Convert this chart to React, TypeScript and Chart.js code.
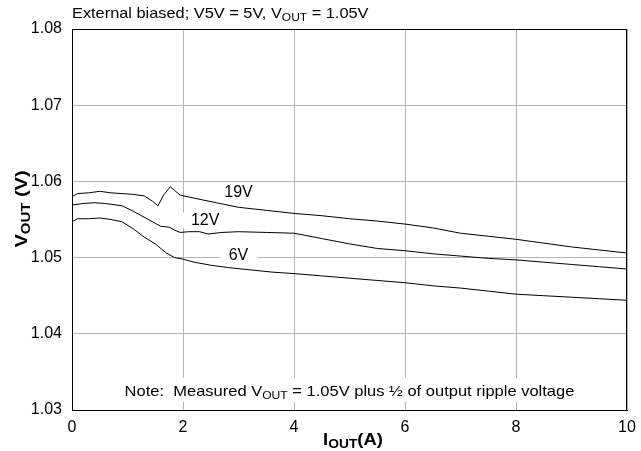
import React, { useEffect, useRef } from "react";
import { Chart, registerables } from "chart.js";

Chart.register(...registerables);

const xTicks = [0, 2, 4, 6, 8, 10];
const yTicks = [1.03, 1.04, 1.05, 1.06, 1.07, 1.08];

const x19 = [0, 0.1, 0.3, 0.5, 0.7, 0.9, 1.1, 1.3, 1.45, 1.55, 1.65, 1.77, 1.85, 1.95, 2.2, 2.6, 3.0, 3.5, 4.0, 4.5, 5.0, 5.5, 6.0, 6.5, 7.0, 7.5, 8.0, 8.5, 9.0, 9.5, 10];
const y19 = [1.0580, 1.0584, 1.0585, 1.0587, 1.0585, 1.0584, 1.0583, 1.0581, 1.0574, 1.0568, 1.0582, 1.0593, 1.0588, 1.0582, 1.0578, 1.0572, 1.0566, 1.0562, 1.0558, 1.0555, 1.0551, 1.0548, 1.0544, 1.0539, 1.0532, 1.0528, 1.0524, 1.0519, 1.0514, 1.0510, 1.0506];

const x12 = [0, 0.2, 0.4, 0.6, 0.9, 1.1, 1.3, 1.5, 1.6, 1.75, 1.85, 1.95, 2.1, 2.3, 2.45, 2.7, 3.0, 3.5, 4.0, 4.5, 5.0, 5.5, 6.0, 6.5, 7.0, 7.5, 8.0, 8.5, 9.0, 9.5, 10];
const y12 = [1.0569, 1.0571, 1.0572, 1.0571, 1.0568, 1.0561, 1.0553, 1.0545, 1.0541, 1.0540, 1.0536, 1.0533, 1.0534, 1.0534, 1.0531, 1.0533, 1.0534, 1.0533, 1.0532, 1.0525, 1.0518, 1.0512, 1.0509, 1.0505, 1.0502, 1.0499, 1.0497, 1.0494, 1.0491, 1.0488, 1.0485];

const x6 = [0, 0.1, 0.3, 0.5, 0.7, 0.9, 1.1, 1.3, 1.5, 1.7, 1.85, 2.0, 2.2, 2.5, 2.8, 3.2, 3.6, 4.0, 4.5, 5.0, 5.5, 6.0, 6.5, 7.0, 7.5, 8.0, 8.5, 9.0, 9.5, 10];
const y6 = [1.0547, 1.0551, 1.0551, 1.0552, 1.0550, 1.0547, 1.0538, 1.0527, 1.0518, 1.0506, 1.0500, 1.0498, 1.0494, 1.0490, 1.0487, 1.0484, 1.0481, 1.0479, 1.0476, 1.0473, 1.0470, 1.0467, 1.0463, 1.0460, 1.0456, 1.0452, 1.0450, 1.0448, 1.0446, 1.0444];

const seriesLabels = ["19V", "12V", "6V"];
const labelPos = [
  { x: 3.0, y: 1.0588 },
  { x: 2.4, y: 1.0551 },
  { x: 3.0, y: 1.0505 },
];

const FONT = "'Liberation Sans', Arial, Helvetica, sans-serif";

type Part = { t: string; sub?: boolean };

function fontFor(p: Part, size: number, sub: number, bold: boolean) {
  return `${bold ? "bold " : ""}${p.sub ? sub : size}px ${FONT}`;
}

function measureRich(ctx: CanvasRenderingContext2D, parts: Part[], size: number, sub: number, bold: boolean) {
  let w = 0;
  for (const p of parts) {
    ctx.font = fontFor(p, size, sub, bold);
    w += ctx.measureText(p.t).width;
  }
  return w;
}

function drawRich(
  ctx: CanvasRenderingContext2D,
  parts: Part[],
  x: number,
  y: number,
  size: number,
  sub: number,
  bold: boolean,
  align: "left" | "center",
  sx: number
) {
  const w = measureRich(ctx, parts, size, sub, bold) * sx;
  const x0 = align === "center" ? x - w / 2 : x;
  ctx.save();
  ctx.translate(x0, y);
  ctx.scale(sx, 1);
  ctx.textAlign = "left";
  ctx.textBaseline = "alphabetic";
  ctx.fillStyle = "#000";
  let cx = 0;
  for (const p of parts) {
    ctx.font = fontFor(p, size, sub, bold);
    ctx.fillText(p.t, cx, p.sub ? 3 : 0);
    cx += ctx.measureText(p.t).width;
  }
  ctx.restore();
  return w;
}

const noteParts: Part[] = [
  { t: "Note:  Measured V" },
  { t: "OUT", sub: true },
  { t: " = 1.05V plus \u00BD of output ripple voltage" },
];

const annotPlugin = {
  id: "annot",
  beforeDatasetsDraw(chart: any) {
    const ctx: CanvasRenderingContext2D = chart.ctx;
    const xs = chart.scales.x;
    const ys = chart.scales.y;
    const area = chart.chartArea;
    ctx.save();
    seriesLabels.forEach((lab, i) => {
      const px = xs.getPixelForValue(labelPos[i].x);
      const py = ys.getPixelForValue(labelPos[i].y);
      ctx.font = `16px ${FONT}`;
      const w = ctx.measureText(lab).width;
      ctx.fillStyle = "#fff";
      ctx.fillRect(px - w / 2 - 9, py - 6, w + 18, 15);
      ctx.fillStyle = "#000";
      ctx.textAlign = "center";
      ctx.textBaseline = "alphabetic";
      ctx.fillText(lab, px, py + 6);
    });
    const sx = 1.1;
    const nw = measureRich(ctx, noteParts, 15, 11, false) * sx;
    const ncx = (area.left + area.right) / 2;
    ctx.fillStyle = "#fff";
    ctx.fillRect(ncx - nw / 2 - 5, area.bottom - 32, nw + 10, 24);
    drawRich(ctx, noteParts, ncx, area.bottom - 14, 15, 11, false, "center", sx);
    ctx.restore();
  },
  afterDraw(chart: any) {
    const ctx: CanvasRenderingContext2D = chart.ctx;
    const area = chart.chartArea;
    ctx.save();
    ctx.strokeStyle = "#000";
    ctx.lineWidth = 1;
    ctx.strokeRect(area.left + 0.5, area.top + 0.5, area.right - area.left - 1, area.bottom - area.top);
    drawRich(
      ctx,
      [{ t: "External biased; V5V = 5V, V" }, { t: "OUT", sub: true }, { t: " = 1.05V" }],
      area.left,
      18,
      15,
      11,
      false,
      "left",
      1.09
    );
    drawRich(
      ctx,
      [{ t: "I" }, { t: "OUT", sub: true }, { t: "(A)" }],
      353,
      445,
      16,
      12,
      true,
      "center",
      1.15
    );
    ctx.save();
    ctx.translate(27, 209);
    ctx.rotate(-Math.PI / 2);
    drawRich(ctx, [{ t: "V" }, { t: "OUT", sub: true }, { t: " (V)" }], 0, 0, 16, 12, true, "center", 1.25);
    ctx.restore();
    ctx.restore();
  },
};

export default function App() {
  const ref = useRef<HTMLCanvasElement | null>(null);
  useEffect(() => {
    if (!ref.current) return;
    const mk = (xs: number[], ys: number[], label: string) => ({
      label,
      data: xs.map((x, i) => ({ x, y: ys[i] })),
      borderColor: "#000",
      borderWidth: 1,
      pointRadius: 0,
      fill: false,
      tension: 0,
    });
    const chart = new Chart(ref.current, {
      type: "line",
      data: {
        datasets: [mk(x19, y19, "19V"), mk(x12, y12, "12V"), mk(x6, y6, "6V")],
      },
      options: {
        responsive: false,
        animation: false,
        layout: { padding: { top: 29, right: 14, left: 0, bottom: 0 } },
        plugins: { legend: { display: false }, tooltip: { enabled: false } },
        scales: {
          x: {
            type: "linear",
            min: 0,
            max: 10,
            afterFit: (s: any) => {
              s.height = 41;
              s.paddingLeft = 0;
              s.paddingRight = 0;
            },
            afterBuildTicks: (s: any) => {
              s.ticks = xTicks.map((v) => ({ value: v }));
            },
            ticks: {
              color: "#000",
              font: { family: FONT, size: 16 },
              padding: 8,
              maxRotation: 0,
              callback: (v: any) => String(v),
            },
            grid: { color: "#b4b4b4", lineWidth: 1, drawTicks: false },
            border: { color: "#000", width: 1 },
          },
          y: {
            type: "linear",
            min: 1.03,
            max: 1.08,
            afterFit: (s: any) => {
              s.width = 72;
              s.paddingTop = 0;
              s.paddingBottom = 0;
            },
            afterBuildTicks: (s: any) => {
              s.ticks = yTicks.map((v) => ({ value: v }));
            },
            ticks: {
              color: "#000",
              font: { family: FONT, size: 16 },
              padding: 10,
              callback: (v: any) => Number(v).toFixed(2),
            },
            grid: { color: "#b4b4b4", lineWidth: 1, drawTicks: false },
            border: { color: "#000", width: 1 },
          },
        },
      },
      plugins: [annotPlugin],
    } as any);
    return () => chart.destroy();
  }, []);
  return (
    <div style={{ position: "absolute", left: 0, top: 0, width: 641, height: 451, background: "#fff" }}>
      <canvas ref={ref} width={641} height={451} style={{ width: 641, height: 451, display: "block" }} />
    </div>
  );
}
